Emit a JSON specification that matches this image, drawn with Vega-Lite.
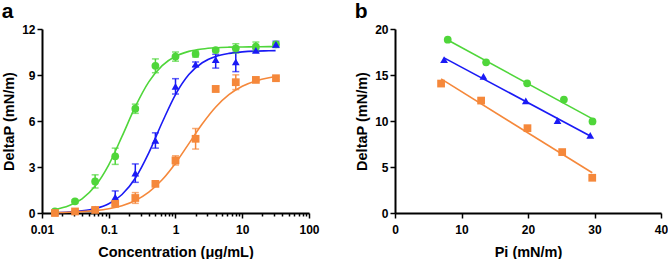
{
  "$schema": "https://vega.github.io/schema/vega-lite/v6.json",
  "padding": {"left": 1, "top": 1, "right": 0, "bottom": 0},
  "spacing": 34,
  "datasets": {
    "pointsA": [
      {"series": "green", "conc": 0.015625, "dp": 0.1, "lo": 0.05, "hi": 0.15},
      {"series": "green", "conc": 0.03125, "dp": 0.76, "lo": 0.66, "hi": 0.86},
      {"series": "green", "conc": 0.0625, "dp": 2.06, "lo": 1.63, "hi": 2.49},
      {"series": "green", "conc": 0.125, "dp": 3.7, "lo": 3.17, "hi": 4.23},
      {"series": "green", "conc": 0.25, "dp": 6.8, "lo": 6.5, "hi": 7.1},
      {"series": "green", "conc": 0.5, "dp": 9.6, "lo": 9.15, "hi": 10.05},
      {"series": "green", "conc": 1, "dp": 10.2, "lo": 9.9, "hi": 10.5},
      {"series": "green", "conc": 2, "dp": 10.37, "lo": 10.17, "hi": 10.57},
      {"series": "green", "conc": 4, "dp": 10.63, "lo": 10.53, "hi": 10.73},
      {"series": "green", "conc": 8, "dp": 10.74, "lo": 10.44, "hi": 11.04},
      {"series": "green", "conc": 16, "dp": 10.85, "lo": 10.55, "hi": 11.15},
      {"series": "green", "conc": 32, "dp": 11.0, "lo": 10.9, "hi": 11.1},
      {"series": "blue", "conc": 0.015625, "dp": 0.05, "lo": 0.05, "hi": 0.05},
      {"series": "blue", "conc": 0.03125, "dp": 0.1, "lo": 0.1, "hi": 0.1},
      {"series": "blue", "conc": 0.0625, "dp": 0.25, "lo": 0.15, "hi": 0.35},
      {"series": "blue", "conc": 0.125, "dp": 1.04, "lo": 0.64, "hi": 1.44},
      {"series": "blue", "conc": 0.25, "dp": 2.6, "lo": 2.0, "hi": 3.2},
      {"series": "blue", "conc": 0.5, "dp": 4.73, "lo": 4.23, "hi": 5.23},
      {"series": "blue", "conc": 1, "dp": 8.26, "lo": 7.76, "hi": 8.76},
      {"series": "blue", "conc": 2, "dp": 9.7, "lo": 9.55, "hi": 9.85},
      {"series": "blue", "conc": 4, "dp": 10.0, "lo": 9.45, "hi": 10.35},
      {"series": "blue", "conc": 8, "dp": 9.85, "lo": 9.22, "hi": 10.48},
      {"series": "blue", "conc": 16, "dp": 10.6, "lo": 10.5, "hi": 10.7},
      {"series": "blue", "conc": 32, "dp": 11.0, "lo": 10.8, "hi": 11.2},
      {"series": "orange", "conc": 0.015625, "dp": 0.0, "lo": 0.0, "hi": 0.0},
      {"series": "orange", "conc": 0.03125, "dp": 0.1, "lo": 0.1, "hi": 0.1},
      {"series": "orange", "conc": 0.0625, "dp": 0.2, "lo": 0.15, "hi": 0.25},
      {"series": "orange", "conc": 0.125, "dp": 0.6, "lo": 0.5, "hi": 0.7},
      {"series": "orange", "conc": 0.25, "dp": 0.98, "lo": 0.63, "hi": 1.33},
      {"series": "orange", "conc": 0.5, "dp": 1.9, "lo": 1.8, "hi": 2.0},
      {"series": "orange", "conc": 1, "dp": 3.43, "lo": 3.13, "hi": 3.73},
      {"series": "orange", "conc": 2, "dp": 4.84, "lo": 4.17, "hi": 5.51},
      {"series": "orange", "conc": 4, "dp": 8.09, "lo": 7.89, "hi": 8.29},
      {"series": "orange", "conc": 8, "dp": 8.53, "lo": 8.05, "hi": 9.01},
      {"series": "orange", "conc": 16, "dp": 8.68, "lo": 8.58, "hi": 8.78},
      {"series": "orange", "conc": 32, "dp": 8.79, "lo": 8.69, "hi": 8.89}
    ],
    "curveA": [
      {"series": "green", "conc": 0.0158, "dp": 0.227},
      {"series": "green", "conc": 0.0251, "dp": 0.466},
      {"series": "green", "conc": 0.0398, "dp": 0.928},
      {"series": "green", "conc": 0.0631, "dp": 1.773},
      {"series": "green", "conc": 0.1, "dp": 3.145},
      {"series": "green", "conc": 0.158, "dp": 4.995},
      {"series": "green", "conc": 0.251, "dp": 6.95},
      {"series": "green", "conc": 0.398, "dp": 8.55},
      {"series": "green", "conc": 0.631, "dp": 9.61},
      {"series": "green", "conc": 1, "dp": 10.22},
      {"series": "green", "conc": 1.585, "dp": 10.54},
      {"series": "green", "conc": 2.512, "dp": 10.7},
      {"series": "green", "conc": 3.981, "dp": 10.78},
      {"series": "green", "conc": 6.31, "dp": 10.815},
      {"series": "green", "conc": 10, "dp": 10.83},
      {"series": "green", "conc": 15.85, "dp": 10.84},
      {"series": "green", "conc": 25.12, "dp": 10.85},
      {"series": "green", "conc": 31.6, "dp": 10.85},
      {"series": "blue", "conc": 0.0158, "dp": 0.03},
      {"series": "blue", "conc": 0.0251, "dp": 0.065},
      {"series": "blue", "conc": 0.0398, "dp": 0.138},
      {"series": "blue", "conc": 0.0631, "dp": 0.29},
      {"series": "blue", "conc": 0.1, "dp": 0.601},
      {"series": "blue", "conc": 0.158, "dp": 1.207},
      {"series": "blue", "conc": 0.251, "dp": 2.285},
      {"series": "blue", "conc": 0.398, "dp": 3.923},
      {"series": "blue", "conc": 0.631, "dp": 5.9},
      {"series": "blue", "conc": 1, "dp": 7.724},
      {"series": "blue", "conc": 1.585, "dp": 9.027},
      {"series": "blue", "conc": 2.512, "dp": 9.8},
      {"series": "blue", "conc": 3.981, "dp": 10.21},
      {"series": "blue", "conc": 6.31, "dp": 10.41},
      {"series": "blue", "conc": 10, "dp": 10.51},
      {"series": "blue", "conc": 15.85, "dp": 10.56},
      {"series": "blue", "conc": 25.12, "dp": 10.58},
      {"series": "blue", "conc": 31.6, "dp": 10.59},
      {"series": "orange", "conc": 0.0158, "dp": 0.028},
      {"series": "orange", "conc": 0.0251, "dp": 0.05},
      {"series": "orange", "conc": 0.0398, "dp": 0.089},
      {"series": "orange", "conc": 0.0631, "dp": 0.157},
      {"series": "orange", "conc": 0.1, "dp": 0.276},
      {"series": "orange", "conc": 0.158, "dp": 0.479},
      {"series": "orange", "conc": 0.251, "dp": 0.818},
      {"series": "orange", "conc": 0.398, "dp": 1.36},
      {"series": "orange", "conc": 0.631, "dp": 2.167},
      {"series": "orange", "conc": 1, "dp": 3.251},
      {"series": "orange", "conc": 1.585, "dp": 4.524},
      {"series": "orange", "conc": 2.512, "dp": 5.8},
      {"series": "orange", "conc": 3.981, "dp": 6.895},
      {"series": "orange", "conc": 6.31, "dp": 7.713},
      {"series": "orange", "conc": 10, "dp": 8.264},
      {"series": "orange", "conc": 15.85, "dp": 8.61},
      {"series": "orange", "conc": 25.12, "dp": 8.82},
      {"series": "orange", "conc": 31.6, "dp": 8.887}
    ],
    "pointsB": [
      {"series": "green", "pi": 7.93, "dp": 18.84},
      {"series": "green", "pi": 13.7, "dp": 16.38},
      {"series": "green", "pi": 19.87, "dp": 14.1},
      {"series": "green", "pi": 25.4, "dp": 12.33},
      {"series": "green", "pi": 29.7, "dp": 9.95},
      {"series": "blue", "pi": 7.38, "dp": 16.67},
      {"series": "blue", "pi": 13.3, "dp": 14.86},
      {"series": "blue", "pi": 19.67, "dp": 12.19},
      {"series": "blue", "pi": 24.44, "dp": 10.05},
      {"series": "blue", "pi": 29.36, "dp": 8.43},
      {"series": "orange", "pi": 6.93, "dp": 14.07},
      {"series": "orange", "pi": 12.95, "dp": 12.22},
      {"series": "orange", "pi": 19.92, "dp": 9.22},
      {"series": "orange", "pi": 25.14, "dp": 6.62},
      {"series": "orange", "pi": 29.66, "dp": 3.83}
    ]
  },
  "hconcat": [
    {
      "width": 267,
      "height": 184,
      "title": {"text": "a", "anchor": "start", "frame": "bounds", "fontSize": 21, "font": "Liberation Sans", "fontWeight": "bold", "offset": 1},
      "layer": [
        {
          "data": {"name": "curveA"},
          "mark": {"type": "line", "strokeWidth": 1.6, "interpolate": "monotone"},
          "encoding": {
            "x": {"field": "conc", "type": "quantitative"},
            "y": {"field": "dp", "type": "quantitative"},
            "color": {"field": "series", "type": "nominal"},
            "detail": {"field": "series"}
          }
        },
        {
          "data": {"name": "pointsA"},
          "mark": {"type": "rule", "strokeWidth": 1.5},
          "encoding": {
            "x": {"field": "conc", "type": "quantitative"},
            "y": {"field": "lo", "type": "quantitative"},
            "y2": {"field": "hi"},
            "color": {"field": "series", "type": "nominal"}
          }
        },
        {
          "data": {"name": "pointsA"},
          "mark": {"type": "tick", "orient": "horizontal", "size": 7, "thickness": 1.5},
          "encoding": {
            "x": {"field": "conc", "type": "quantitative"},
            "y": {"field": "lo", "type": "quantitative"},
            "color": {"field": "series", "type": "nominal"}
          }
        },
        {
          "data": {"name": "pointsA"},
          "mark": {"type": "tick", "orient": "horizontal", "size": 7, "thickness": 1.5},
          "encoding": {
            "x": {"field": "conc", "type": "quantitative"},
            "y": {"field": "hi", "type": "quantitative"},
            "color": {"field": "series", "type": "nominal"}
          }
        },
        {
          "data": {"name": "pointsA"},
          "mark": {"type": "point", "filled": true, "opacity": 1, "size": 60},
          "encoding": {
            "x": {
              "field": "conc", "type": "quantitative",
              "scale": {"type": "log", "domain": [0.01, 100], "nice": false},
              "axis": {
                "title": "Concentration (μg/mL)",
                "values": [0.01,0.02,0.03,0.04,0.05,0.06,0.07,0.08,0.09,0.1,0.2,0.3,0.4,0.5,0.6,0.7,0.8,0.9,1,2,3,4,5,6,7,8,9,10,20,30,40,50,60,70,80,90,100],
                "labelExpr": "(datum.value==0.01||datum.value==0.1||datum.value==1||datum.value==10||datum.value==100) ? format(datum.value, '~g') : ''",
                "labelOverlap": false,
                "labelPadding": 6,
                "titlePadding": 10,
                "tickSize": {"condition": {"test": "datum.value==0.01||datum.value==0.1||datum.value==1||datum.value==10||datum.value==100", "value": 5}, "value": 3}
              }
            },
            "y": {
              "field": "dp", "type": "quantitative",
              "scale": {"domain": [0, 12], "nice": false},
              "axis": {"title": "DeltaP (mN/m)", "values": [0, 3, 6, 9, 12]}
            },
            "color": {"field": "series", "type": "nominal"},
            "shape": {"field": "series", "type": "nominal"}
          }
        }
      ]
    },
    {
      "width": 266,
      "height": 184,
      "title": {"text": "b", "anchor": "start", "frame": "bounds", "fontSize": 21, "font": "Liberation Sans", "fontWeight": "bold", "offset": 1},
      "data": {"name": "pointsB"},
      "layer": [
        {
          "transform": [{"regression": "dp", "on": "pi", "groupby": ["series"]}],
          "mark": {"type": "line", "strokeWidth": 1.6},
          "encoding": {
            "x": {"field": "pi", "type": "quantitative"},
            "y": {"field": "dp", "type": "quantitative"},
            "color": {"field": "series", "type": "nominal"}
          }
        },
        {
          "mark": {"type": "point", "filled": true, "opacity": 1, "size": 60},
          "encoding": {
            "x": {
              "field": "pi", "type": "quantitative",
              "scale": {"domain": [0, 40], "nice": false},
              "axis": {"title": "Pi (mN/m)", "values": [0, 10, 20, 30, 40], "labelPadding": 6, "titlePadding": 10}
            },
            "y": {
              "field": "dp", "type": "quantitative",
              "scale": {"domain": [0, 20], "nice": false},
              "axis": {"title": "DeltaP (mN/m)", "values": [0, 5, 10, 15, 20]}
            },
            "color": {"field": "series", "type": "nominal"},
            "shape": {"field": "series", "type": "nominal"}
          }
        }
      ]
    }
  ],
  "resolve": {"scale": {"x": "independent", "y": "independent"}},
  "config": {
    "view": {"stroke": null},
    "legend": {"disable": true},
    "range": {
      "category": ["#1a1af5", "#4fd63a", "#f5883b"],
      "symbol": ["triangle-up", "circle", "square"]
    },
    "axis": {
      "grid": false,
      "labelFlush": false,
      "domainColor": "black",
      "domainWidth": 2,
      "tickColor": "black",
      "tickWidth": 1.5,
      "tickSize": 5,
      "labelFont": "Liberation Sans",
      "labelFontWeight": "bold",
      "labelFontSize": 12,
      "labelColor": "black",
      "labelPadding": 2,
      "titleFont": "Liberation Sans",
      "titleFontWeight": "bold",
      "titleFontSize": 14.5,
      "titlePadding": 5,
      "titleColor": "black"
    }
  }
}
